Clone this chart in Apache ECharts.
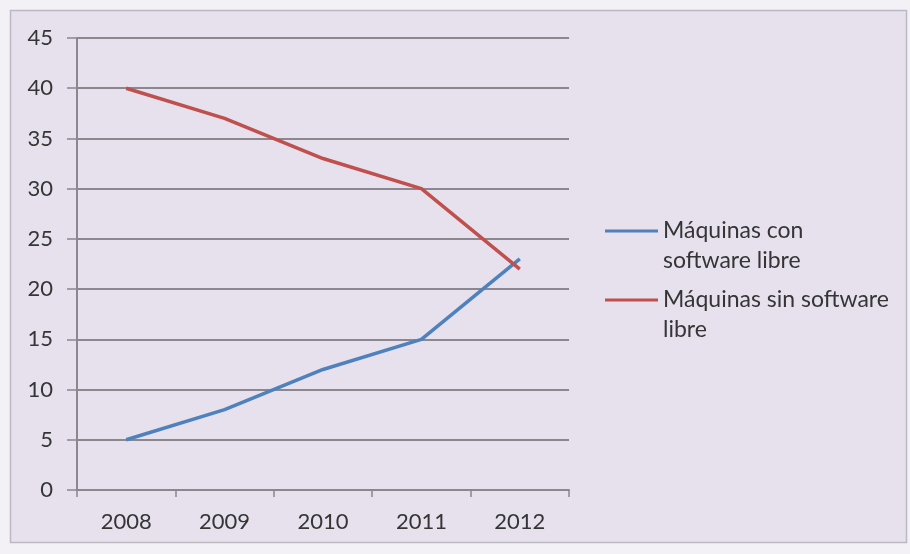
<!DOCTYPE html>
<html>
<head>
<meta charset="utf-8">
<script src="https://cdn.jsdelivr.net/npm/echarts@6/dist/echarts.min.js"></script>
<style>
html,body{margin:0;padding:0;background:#f3f1f5;}
#c{width:910px;height:554px;}
</style>
</head>
<body>
<div id="c"></div>
<script>
var categories = ['2008', '2009', '2010', '2011', '2012'];
var conSoftwareLibre = [5, 8, 12, 15, 23];
var sinSoftwareLibre = [40, 37, 33, 30, 22];
var seriesNames = ['Máquinas con\nsoftware libre', 'Máquinas sin software\nlibre'];
var yMin = 0, yMax = 45, yStep = 5;

var FONT = 'Lato';
var TXT = '#353535';
var GRID = '#8a878e';

var chart = echarts.init(document.getElementById('c'), null, {renderer: 'canvas'});
var legendText = {
  fontFamily: FONT, fontSize: 23, color: TXT, lineHeight: 30
};
// leading blank line so the line icon sits level with the first text line
var legendFormatter = function (name) { return ' \n' + name; };
chart.setOption({
  backgroundColor: '#f3f1f5',
  animation: false,
  graphic: [{
    type: 'rect', z: -10, silent: true,
    shape: {x: 10.5, y: 10.5, width: 896, height: 532},
    style: {fill: '#e6e1ec', stroke: '#bdb9c2', lineWidth: 1.5}
  }],
  grid: {left: 77, right: 341, top: 38, bottom: 64, containLabel: false},
  legend: [{
    data: [seriesNames[0]], orient: 'vertical', left: 605, top: 186, padding: 0,
    icon: 'rect', itemWidth: 53, itemHeight: 3, itemGap: 5, selectedMode: false,
    formatter: legendFormatter, textStyle: legendText
  }, {
    data: [seriesNames[1]], orient: 'vertical', left: 605, top: 255, padding: 0,
    icon: 'rect', itemWidth: 53, itemHeight: 3, itemGap: 5, selectedMode: false,
    formatter: legendFormatter, textStyle: legendText
  }],
  xAxis: {
    type: 'category', data: categories, boundaryGap: true,
    axisLine: {lineStyle: {color: GRID, width: 2}},
    axisTick: {show: true, length: 7, lineStyle: {color: GRID, width: 1.5}},
    axisLabel: {fontFamily: FONT, fontSize: 22, color: TXT, margin: 21}
  },
  yAxis: {
    type: 'value', min: yMin, max: yMax, interval: yStep,
    axisLine: {show: true, lineStyle: {color: GRID, width: 2}},
    axisTick: {show: true, length: 10, lineStyle: {color: GRID, width: 1.5}},
    splitLine: {lineStyle: {color: GRID, width: 2}},
    axisLabel: {fontFamily: FONT, fontSize: 22, color: TXT, margin: 24}
  },
  series: [{
    name: seriesNames[0], type: 'line', data: conSoftwareLibre,
    showSymbol: false, symbol: 'none',
    lineStyle: {color: '#4f81bd', width: 3.5}, itemStyle: {color: '#4f81bd'}
  }, {
    name: seriesNames[1], type: 'line', data: sinSoftwareLibre,
    showSymbol: false, symbol: 'none',
    lineStyle: {color: '#c0504d', width: 3.5}, itemStyle: {color: '#c0504d'}
  }]
});
</script>
</body>
</html>
